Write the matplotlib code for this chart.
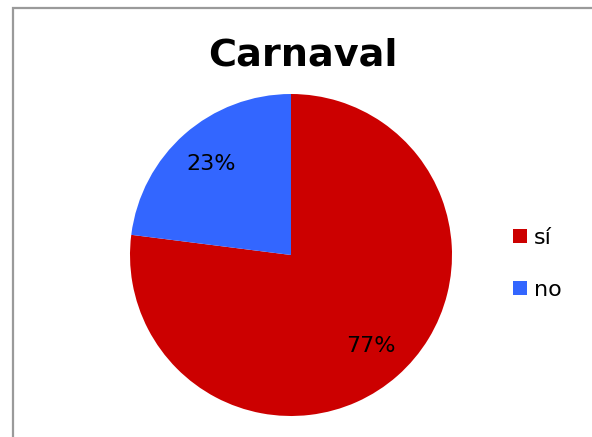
import matplotlib
matplotlib.use("Agg")
import matplotlib.pyplot as plt
from matplotlib.patches import Rectangle

labels = ["sí", "no"]
values = [77, 23]
colors = ["#CC0000", "#3366FF"]
title = "Carnaval"

W, H = 592, 437
fig = plt.figure(figsize=(W / 100, H / 100), dpi=100)

# outer frame
fig.add_artist(Rectangle((12.5 / W, -0.2), 1.2, 1 - 8 / H + 0.2, transform=fig.transFigure,
                         fill=False, edgecolor="#9a9a9a", lw=1.6))

cx, cy, r = 291, 255, 161
ax = fig.add_axes([(cx - r) / W, (H - cy - r) / H, 2 * r / W, 2 * r / H])
wedges, texts, autotexts = ax.pie(values, colors=colors, startangle=90, counterclock=False,
                                  autopct=lambda p: f"{p:.0f}%", pctdistance=0.75,
                                  radius=1, textprops=dict(fontsize=16, color="black"))
ax.set_xlim(-1, 1)
ax.set_ylim(-1, 1)
ax.set_aspect("equal")
ax.axis("off")

fig.text(303 / W, 1 - 56 / H, title, ha="center", va="center", fontsize=27.5, fontweight="bold")

fig.legend(wedges, labels, loc="center left", bbox_to_anchor=(502 / W, 1 - 264 / H),
           frameon=False, fontsize=16, handlelength=0.62, handleheight=0.62,
           handletextpad=0.3, labelspacing=1.45, borderpad=0)

fig.savefig("out.png", dpi=100)
